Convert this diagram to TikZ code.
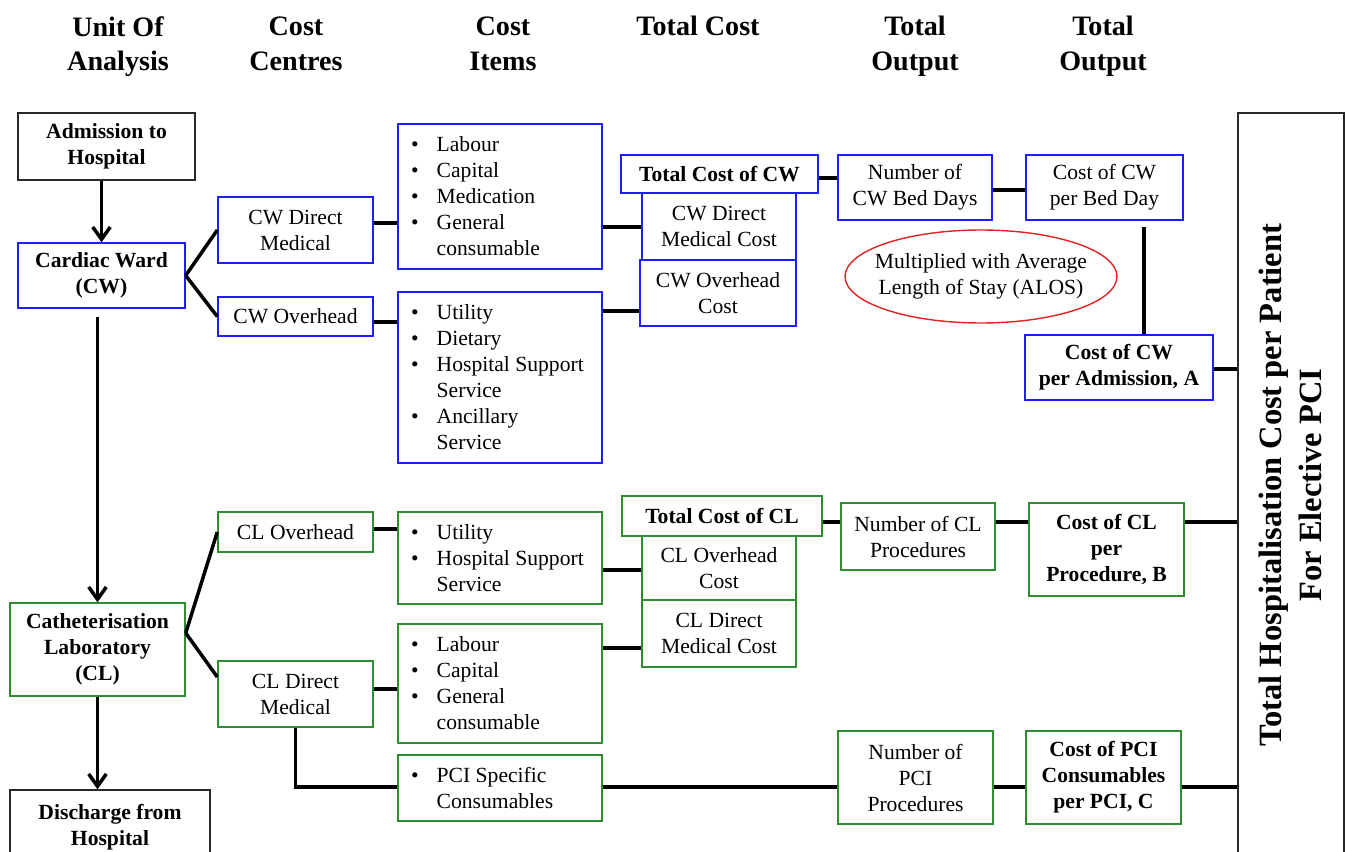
\documentclass[tikz,border=0pt]{standalone}
\usepackage{fontspec}
\setmainfont{Liberation Serif}
\usetikzlibrary{shapes.geometric,arrows.meta}
\definecolor{bluec}{RGB}{30,30,250}
\definecolor{greenc}{RGB}{50,140,50}
\definecolor{redc}{RGB}{225,35,35}
\definecolor{darkc}{RGB}{40,40,40}
\newcommand{\bodyf}{\fontsize{12.3}{14.8}\selectfont}
\newcommand{\headf}{\fontsize{16}{19.8}\selectfont\bfseries}
\newcommand{\bigf}{\fontsize{18.5}{22.7}\selectfont\bfseries}
\newcommand{\itbul}[1]{\makebox[0.514cm][l]{\textbullet}\mbox{#1}}
\newcommand{\itind}[1]{\hspace*{0.514cm}\mbox{#1}}
\begin{document}
\begin{tikzpicture}[x=0.02cm,y=-0.02cm,
  base/.style={draw, fill=white, line width=0.8pt, inner sep=0pt, align=center, font=\bodyf},
  bx/.style={base, draw=bluec},
  gx/.style={base, draw=greenc},
  kx/.style={base, draw=darkc},
  bft/.style={font=\bodyf\bfseries},
  sz/.style 2 args={minimum width=#1*0.02cm, minimum height=#2*0.02cm},
  items/.style={text width=3.56cm, inner xsep=0.26cm, align=flush left},
  conn/.style={line width=2pt},
  arr/.style={line width=2pt, -{Straight Barb[length=7pt,width=10pt,line width=2pt]}},
  head/.style={font=\headf, align=center, inner sep=0pt, anchor=north},
  ell/.style={ellipse, draw=redc, line width=0.8pt, fill=white, inner sep=0pt}
]
\useasboundingbox (0,0) rectangle (1346,852);
\clip (0,0) rectangle (1346,852);

% headers
\node[head] (h1) at (118,16) {Unit Of\\Analysis};
\node[head] (h2) at (296,17) {Cost\\Centres};
\node[head] (h3) at (503,17) {Cost\\Items};
\node[head] (h4) at (698,16) {Total Cost};
\node[head] (h5) at (915,16) {Total\\Output};
\node[head] (h6) at (1103,16) {Total\\Output};

% unit of analysis
\node[kx, bft, sz={177}{67}] (adm) at (106.5,146.5) {Admission to\\Hospital};
\node[bx, bft, sz={167}{65}] (cw) at (101.5,275.5) {Cardiac Ward\\(CW)};
\node[gx, bft, sz={175}{93}] (cl) at (97.5,649.5) {Catheterisation\\Laboratory\\(CL)};
\node[kx, bft, sz={200}{74}] (dis) at (110,827) {Discharge from\\Hospital};

% cost centres
\node[bx, sz={155}{66}] (cwdm) at (295.5,230) {CW Direct\\Medical};
\node[bx, sz={155}{39}] (cwoh) at (295.5,316.5) {CW Overhead};
\node[gx, sz={155}{40}] (cloh) at (295.5,532) {CL Overhead};
\node[gx, sz={155}{66}] (cldm) at (295.5,694) {CL Direct\\Medical};

% cost items
\node[bx, items, sz={204}{145}] (it1) at (500,196.5) {\itbul{Labour}\\ \itbul{Capital}\\ \itbul{Medication}\\ \itbul{General}\\ \itind{consumable}};
\node[bx, items, sz={204}{171}] (it2) at (500,377.5) {\itbul{Utility}\\ \itbul{Dietary}\\ \itbul{Hospital Support}\\ \itind{Service}\\ \itbul{Ancillary}\\ \itind{Service}};
\node[gx, items, sz={204}{92}] (it3) at (500,558) {\itbul{Utility}\\ \itbul{Hospital Support}\\ \itind{Service}};
\node[gx, items, sz={204}{119}] (it4) at (500,683.5) {\itbul{Labour}\\ \itbul{Capital}\\ \itbul{General}\\ \itind{consumable}};
\node[gx, items, sz={204}{66}] (pci) at (500,788) {\itbul{PCI Specific}\\ \itind{Consumables}};

% total cost
\node[bx, sz={154}{67}] (cwdmc) at (719,226.5) {CW Direct\\Medical Cost};
\node[bx, sz={156}{66}] (cwohc) at (718,293) {CW Overhead\\Cost};
\node[bx, bft, sz={197}{38}] (tcw) at (719.5,174) {Total Cost of CW};
\node[gx, sz={154}{64}] (clohc) at (719,568) {CL Overhead\\Cost};
\node[gx, sz={154}{67}] (cldmc) at (719,633.5) {CL Direct\\Medical Cost};
\node[gx, bft, sz={200}{40}] (tcl) at (722,516) {Total Cost of CL};

% outputs
\node[bx, sz={154}{65}] (ncw) at (915,187.5) {Number of\\CW Bed Days};
\node[bx, sz={157}{65}] (cpbd) at (1104.5,187.5) {Cost of CW\\per Bed Day};
\node[ell, minimum width=5.44cm, minimum height=1.86cm] (alos) at (981,276.5) {};
\node[font=\bodyf, align=center, inner sep=0pt] (alost) at (alos.center) {Multiplied with Average\\Length of Stay (ALOS)};
\node[bx, bft, sz={188}{65}] (cwa) at (1119,367.5) {Cost of CW\\per Admission, A};
\node[gx, sz={154}{67}] (ncl) at (918,536.5) {Number of CL\\Procedures};
\node[gx, bft, sz={155}{93}] (clb) at (1106.5,549.5) {Cost of CL\\per\\Procedure, B};
\node[gx, sz={155}{93}] (npci) at (915.5,777.5) {Number of\\PCI\\Procedures};
\node[gx, bft, sz={155}{93}] (cpci) at (1103.5,777.5) {Cost of PCI\\Consumables\\per PCI, C};

% big box
\node[kx, sz={106}{787}] (big) at (1291,506.5) {};
\node[font=\bigf, align=center, rotate=90, inner sep=0pt] (bigt) at (1290,485) {Total Hospitalisation Cost per Patient\\For Elective PCI};

% arrows
\draw[arr] (adm.south -| cw.north) -- (cw.north);
\draw[arr] ([yshift=-0.16cm]cw.south -| cl.north) -- (cl.north);
\draw[arr] (cl.south) -- (cl.south |- dis.north);

% connectors CW
\draw[conn] (cw.east) -- (cwdm.west);
\draw[conn] (cw.east) -- (cwoh.west);
\draw[conn] (cwdm.east |- 0,223) -- (it1.west |- 0,223);
\draw[conn] (cwoh.east |- 0,322) -- (it2.west |- 0,322);
\draw[conn] (it1.east |- 0,227) -- (cwdmc.west |- 0,227);
\draw[conn] (it2.east |- 0,311) -- (cwohc.west |- 0,311);
\draw[conn] (tcw.east |- 0,178) -- (ncw.west |- 0,178);
\draw[conn] (ncw.east |- 0,190) -- (cpbd.west |- 0,190);
\draw[conn] ([yshift=-0.12cm]cpbd.south -| 1144,0) -- (cwa.north -| 1144,0);
\draw[conn] (cwa.east |- 0,369) -- (big.west |- 0,369);

% connectors CL
\coordinate (clj) at (cl.east |- 0,633);
\draw[conn] (clj) -- (cloh.west);
\draw[conn] (clj) -- (cldm.west |- 0,677);
\draw[conn] (cloh.east |- 0,529) -- (it3.west |- 0,529);
\draw[conn] (cldm.east |- 0,689) -- (it4.west |- 0,689);
\draw[conn] (cldm.south) |- (pci.west |- 0,787);
\draw[conn] (it3.east |- 0,570) -- (clohc.west |- 0,570);
\draw[conn] (it4.east |- 0,648) -- (cldmc.west |- 0,648);
\draw[conn] (tcl.east |- 0,522) -- (ncl.west |- 0,522);
\draw[conn] (ncl.east |- 0,522) -- (clb.west |- 0,522);
\draw[conn] (clb.east |- 0,522) -- (big.west |- 0,522);
\draw[conn] (pci.east |- 0,787) -- (npci.west |- 0,787);
\draw[conn] (npci.east |- 0,787) -- (cpci.west |- 0,787);
\draw[conn] (cpci.east |- 0,787) -- (big.west |- 0,787);
\end{tikzpicture}
\end{document}
